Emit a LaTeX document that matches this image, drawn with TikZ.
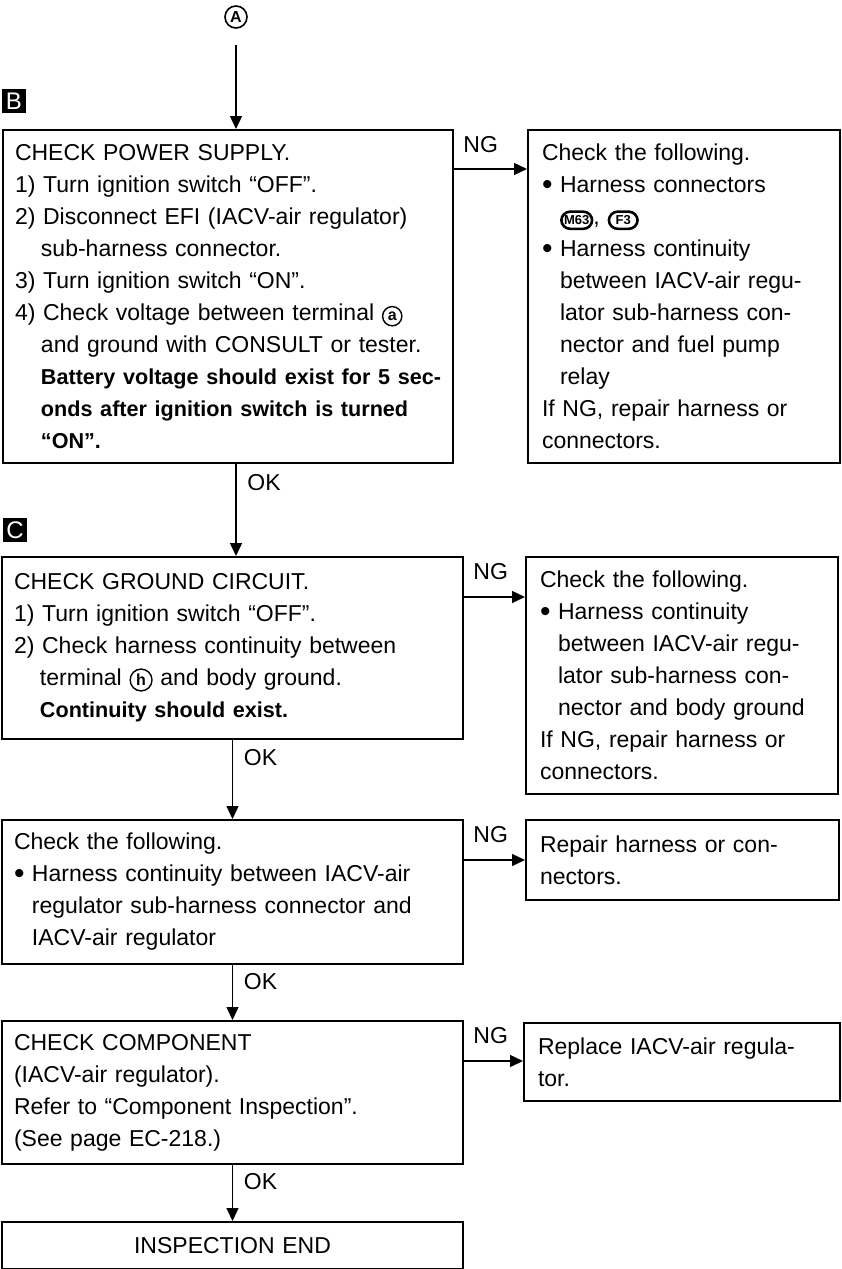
\documentclass[tikz,border=0pt]{standalone}
\usepackage{fontspec}
\setmainfont{Liberation Sans}
\usetikzlibrary{arrows.meta,positioning,calc}

\tikzset{
    markreset/.style={text width=, align=center, minimum width=0pt, minimum height=0pt, fill=none, text=black},
    termmark/.style={markreset, circle, draw, line width=0.7pt, inner sep=1.2pt, font=\fontsize{8}{8}\selectfont\bfseries},
    connmark/.style={markreset, draw, rounded corners=4.5pt, line width=1.3pt, inner ysep=2pt, font=\fontsize{6.5}{6.5}\selectfont\bfseries}
}
\newcommand{\bulitem}{\makebox[9pt][l]{\raisebox{-0.9pt}{\fontsize{15}{16}\selectfont\textbullet}}}
\newcommand{\contbul}{\hspace*{9pt}}
\newcommand{\contnum}{\hspace*{13pt}}
\newcommand{\boldln}[1]{\mbox{\fontsize{10.8}{16}\selectfont\bfseries #1}}
\newcommand{\termno}[1]{\tikz[baseline=(tn.base)]\node[termmark](tn){#1};}
\newcommand{\connsym}[2]{\tikz[baseline=(cs.base)]\node[connmark,inner xsep=#2](cs){#1};}

\begin{document}
\begin{tikzpicture}[x=0.5pt, y=-0.5pt,
    chkbox/.style={draw, line width=1pt, anchor=north west, align=left, inner xsep=6pt, inner ysep=0pt,
                   font=\fontsize{11.5}{16}\selectfont},
    fixbox/.style={chkbox, inner xsep=7pt},
    tag/.style={fill=black, text=white, minimum size=12pt, inner sep=0pt, font=\fontsize{12}{12}\selectfont},
    lbl/.style={anchor=west, inner sep=0pt, font=\fontsize{11.5}{12}\selectfont},
    flow/.style={line width=0.7pt, -{Triangle[length=6.5pt,width=6pt]}}
]
    \useasboundingbox (0,0) rectangle (841,1269);

    \node[circle, draw, line width=0.8pt, minimum size=11pt, inner sep=0pt,
          font=\fontsize{8}{8}\selectfont\bfseries] (start) at (236,17) {A};

    % power supply
    \node[tag] (tagpwr) at (14,101) {B};
    \node[chkbox, minimum width=225pt, minimum height=166.5pt, text width=213pt] (chkpwr) at (2,129) {
        CHECK POWER SUPPLY.\\
        1) Turn ignition switch ``OFF''.\\
        2) Disconnect EFI (IACV-air regulator)\\
        \contnum sub-harness connector.\\
        3) Turn ignition switch ``ON''.\\
        4) Check voltage between terminal \termno{a}\\
        \contnum and ground with CONSULT or tester.\\
        \contnum\boldln{Battery voltage should exist for 5 sec-}\\
        \contnum\boldln{onds after ignition switch is turned}\\
        \contnum\boldln{``ON''.}};
    \node[fixbox, minimum width=156pt, minimum height=166.5pt, text width=142pt] (fixpwr) at (527,129) {
        Check the following.\\
        \bulitem Harness connectors\\
        \contbul\connsym{M63}{1.4pt}, \connsym{F3}{3.4pt}\\
        \bulitem Harness continuity\\
        \contbul between IACV-air regu-\\
        \contbul lator sub-harness con-\\
        \contbul nector and fuel pump\\
        \contbul relay\\
        If NG, repair harness or\\
        connectors.};

    % ground circuit
    \node[tag] (taggnd) at (15,530) {C};
    \node[chkbox, minimum width=230.5pt, minimum height=91pt, text width=218.5pt] (chkgnd) at (1,556) {
        CHECK GROUND CIRCUIT.\\
        1) Turn ignition switch ``OFF''.\\
        2) Check harness continuity between\\
        \contnum terminal \termno{h} and body ground.\\
        \contnum\boldln{Continuity should exist.}};
    \node[fixbox, minimum width=156pt, minimum height=118.5pt, text width=142pt] (fixgnd) at (525,556) {
        Check the following.\\
        \bulitem Harness continuity\\
        \contbul between IACV-air regu-\\
        \contbul lator sub-harness con-\\
        \contbul nector and body ground\\
        If NG, repair harness or\\
        connectors.};

    % harness
    \node[chkbox, minimum width=230.5pt, minimum height=72pt, text width=218.5pt] (chkhar) at (1,819) {
        Check the following.\\
        \bulitem Harness continuity between IACV-air\\
        \contbul regulator sub-harness connector and\\
        \contbul IACV-air regulator};
    \node[fixbox, minimum width=156.5pt, minimum height=40pt, text width=142.5pt] (fixhar) at (525,819) {
        Repair harness or con-\\
        nectors.};

    % component
    \node[chkbox, minimum width=230.5pt, minimum height=71.5pt, text width=218.5pt] (chkcomp) at (1,1020) {
        CHECK COMPONENT\\
        (IACV-air regulator).\\
        Refer to ``Component Inspection''.\\
        (See page EC-218.)};
    \node[fixbox, minimum width=158pt, minimum height=39pt, text width=144pt] (fixcomp) at (523,1022) {
        Replace IACV-air regula-\\
        tor.};

    \node[chkbox, align=center, minimum width=230.5pt, minimum height=23.5pt, text width=218.5pt] (insend) at (1,1221) {INSPECTION END};

    % OK path
    \draw[flow, shorten <=8pt] (start) -- (start |- chkpwr.north);
    \draw[flow] (chkpwr.south -| start) -- (chkgnd.north -| start);
    \draw[flow] (chkgnd) -- (chkhar);
    \draw[flow] (chkhar) -- (chkcomp);
    \draw[flow] (chkcomp) -- (insend);
    \node[lbl] (okpwr) at ($(chkpwr.south -| start)+(11,19)$) {OK};
    \node[lbl] (okgnd) at ($(chkgnd.south)+(11,18)$) {OK};
    \node[lbl] (okhar) at ($(chkhar.south)+(11,17)$) {OK};
    \node[lbl] (okcomp) at ($(chkcomp.south)+(11,17)$) {OK};

    % NG path
    \draw[flow] ([yshift=-20pt]chkpwr.north east) -- ([yshift=-20pt]fixpwr.north west);
    \draw[flow] ([yshift=-20.5pt]chkgnd.north east) -- ([yshift=-20.5pt]fixgnd.north west);
    \draw[flow] ([yshift=-20.5pt]chkhar.north east) -- ([yshift=-20.5pt]fixhar.north west);
    \draw[flow] ([yshift=-20.5pt]chkcomp.north east) -- ([yshift=-19.5pt]fixcomp.north west);
    \node[lbl] (ngpwr) at ([xshift=4.5pt,yshift=-8pt]chkpwr.north east) {NG};
    \node[lbl] (nggnd) at ([xshift=4.5pt,yshift=-8pt]chkgnd.north east) {NG};
    \node[lbl] (nghar) at ([xshift=4.5pt,yshift=-8pt]chkhar.north east) {NG};
    \node[lbl] (ngcomp) at ([xshift=4.5pt,yshift=-8pt]chkcomp.north east) {NG};
\end{tikzpicture}
\end{document}
